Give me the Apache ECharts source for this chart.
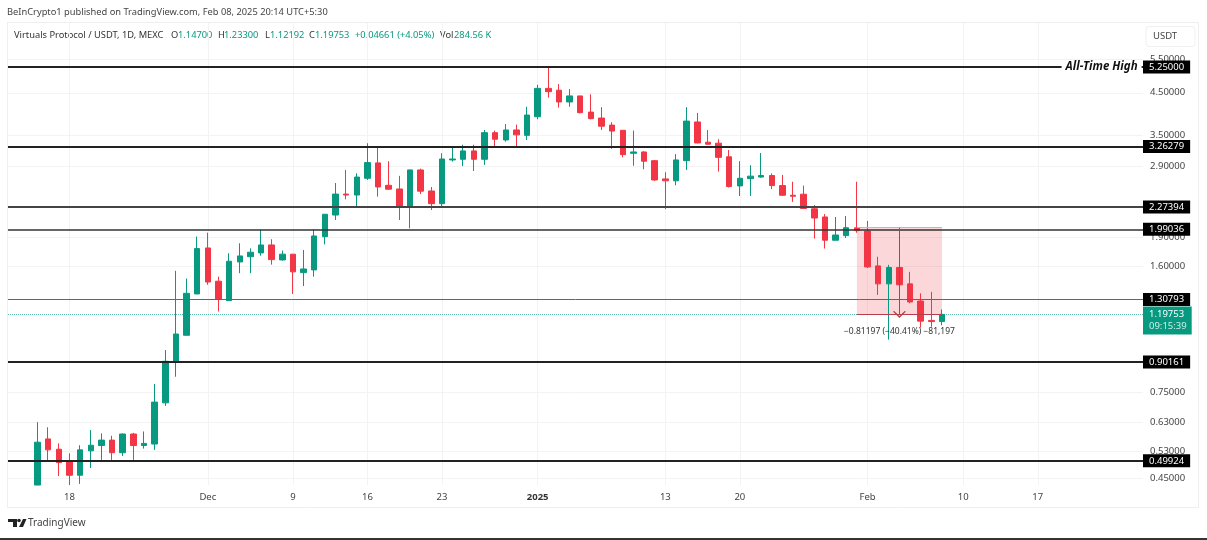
<!DOCTYPE html>
<html><head><meta charset="utf-8">
<style>html,body{margin:0;padding:0;background:#fff}#c{width:1207px;height:540px}</style>
<script src="https://cdn.jsdelivr.net/npm/echarts@6/dist/echarts.min.js"></script>
</head><body><div id="c"></div>
<script>
const dates = ['2024-11-15','2024-11-16','2024-11-17','2024-11-18','2024-11-19','2024-11-20','2024-11-21','2024-11-22','2024-11-23','2024-11-24','2024-11-25','2024-11-26','2024-11-27','2024-11-28','2024-11-29','2024-11-30',
'2024-12-01','2024-12-02','2024-12-03','2024-12-04','2024-12-05','2024-12-06','2024-12-07','2024-12-08','2024-12-09','2024-12-10','2024-12-11','2024-12-12','2024-12-13','2024-12-14','2024-12-15','2024-12-16','2024-12-17','2024-12-18','2024-12-19','2024-12-20','2024-12-21','2024-12-22','2024-12-23','2024-12-24','2024-12-25','2024-12-26','2024-12-27','2024-12-28','2024-12-29','2024-12-30','2024-12-31',
'2025-01-01','2025-01-02','2025-01-03','2025-01-04','2025-01-05','2025-01-06','2025-01-07','2025-01-08','2025-01-09','2025-01-10','2025-01-11','2025-01-12','2025-01-13','2025-01-14','2025-01-15','2025-01-16','2025-01-17','2025-01-18','2025-01-19','2025-01-20','2025-01-21','2025-01-22','2025-01-23','2025-01-24','2025-01-25','2025-01-26','2025-01-27','2025-01-28','2025-01-29','2025-01-30','2025-01-31',
'2025-02-01','2025-02-02','2025-02-03','2025-02-04','2025-02-05','2025-02-06','2025-02-07','2025-02-08'];
const opens = [.432,.569,.535,.496,.458,.53,.547,.565,.524,.586,.547,.552,.706,.901,1.057,1.353,
1.781,1.46,1.30,1.638,1.69,1.729,1.813,1.658,1.716,1.537,1.562,1.905,2.168,2.457,2.443,2.70,2.96,2.589,2.533,2.28,2.838,2.503,2.32,3.013,3.025,3.18,3.025,3.546,3.395,3.604,3.49,
3.90,4.62,4.57,4.26,4.417,4.01,3.87,3.71,3.597,3.135,3.16,3.0,2.69,2.66,3.0,3.78,3.35,3.33,3.07,2.58,2.694,2.72,2.745,2.585,2.44,2.455,2.25,2.143,1.865,1.917,2.008,
1.97,1.60,1.437,1.585,1.437,1.297,1.155,1.147];
const closes = [.558,.533,.494,.458,.533,.548,.565,.524,.586,.547,.554,.709,.905,1.065,1.358,1.774,
1.453,1.31,1.645,1.698,1.736,1.813,1.661,1.716,1.544,1.571,1.913,2.178,2.457,2.443,2.72,2.965,2.564,2.53,2.27,2.838,2.50,2.32,3.03,3.03,3.18,3.025,3.546,3.41,3.604,3.50,3.94,
4.62,4.53,4.26,4.417,3.996,3.856,3.686,3.58,3.11,3.16,2.99,2.673,2.66,3.013,3.80,3.335,3.31,3.06,2.57,2.70,2.735,2.745,2.585,2.44,2.425,2.255,2.13,1.865,1.924,2.01,1.975,
1.59,1.437,1.585,1.429,1.29,1.15,1.147,1.19753];
const lows = [.432,.497,.456,.432,.435,.478,.502,.502,.514,.502,.537,.533,.693,.825,1.057,1.353,
1.429,1.218,1.30,1.532,1.532,1.70,1.612,1.651,1.353,1.418,1.50,1.82,2.105,2.382,2.288,2.673,2.42,2.518,2.105,2.003,2.457,2.235,2.265,2.983,2.905,2.82,2.925,3.26,3.36,3.26,3.395,
3.84,4.37,4.118,4.14,3.98,3.84,3.604,3.22,3.06,2.91,2.85,2.66,2.245,2.59,2.838,3.33,3.295,2.81,2.555,2.43,2.43,2.71,2.53,2.43,2.345,2.25,1.883,1.775,1.865,1.89,1.95,
1.58,1.345,1.03,1.386,1.28,1.107,1.112,1.12192];
const highs = [.629,.61,.554,.522,.548,.60,.588,.58,.588,.59,.595,.79,.968,1.553,1.483,1.906,
1.951,1.5,1.725,1.831,1.777,1.989,1.876,1.753,1.716,1.76,1.99,2.178,2.625,2.838,2.782,3.329,3.26,2.99,2.74,2.843,2.86,2.564,3.135,3.26,3.30,3.30,3.604,3.59,3.733,3.72,4.14,
4.72,5.24,4.74,4.60,4.417,4.46,4.13,3.775,3.597,3.59,3.173,3.013,2.80,3.12,4.13,3.99,3.604,3.41,3.198,2.99,2.92,3.14,2.78,2.755,2.645,2.585,2.30,2.18,2.143,2.155,2.645,
2.093,1.69,1.61,1.70,1.544,1.358,1.37,1.233];

const levelValues = [5.25, 3.26279, 2.27394, 1.99036, 1.30793, 0.90161, 0.49924];
const levelLabels = ['5.25000','3.26279','2.27394','1.99036','1.30793','0.90161','0.49924'];
const levelWidths = [2, 2, 2, 1.5, 1, 2, 2];
const levelColors = ['#222','#222','#444','#333','#666666','#222','#222'];
const priceTicks = [5.5, 4.5, 3.5, 2.9, 1.9, 1.6, 0.75, 0.63, 0.53, 0.45];
const dateTicks = ['2024-11-18','2024-12-01','2024-12-09','2024-12-16','2024-12-23','2025-01-01','2025-01-13','2025-01-20','2025-02-01','2025-02-10','2025-02-17'];
const dateTickLabels = ['18','Dec','9','16','23','2025','13','20','Feb','10','17'];
const lastPrice = 1.19753, rangeStart = 2.0095;
const FONT = '"Noto Sans", sans-serif';
const FS = 9.5, HS = 9.3;
const UP = '#089981', DOWN = '#F23645';
const DAY = 86400000;
const dayOf = s => Math.round((new Date(s + 'T00:00:00Z').getTime() - new Date(dates[0] + 'T00:00:00Z').getTime()) / DAY);
const pxPerDay = 10.64;
const xMin = -(37.6 - 8) / pxPerDay;
const xMax = (1143 - 37.6) / pxPerDay;
const tickDays = dateTicks.map(dayOf);

const chart = echarts.init(document.getElementById('c'), null, {renderer:'canvas'});
chart.setOption({
  animation:false, backgroundColor:'#fff',
  grid:{left:8,right:64,top:23,bottom:55},
  xAxis:{type:'value',min:xMin,max:xMax,scale:true,
    axisLine:{show:false},
    splitLine:{show:true,lineStyle:{color:'#f3f3f3',width:1}},
    axisTick:{show:false,customValues:tickDays},
    axisLabel:{customValues:tickDays,margin:7,fontFamily:FONT,fontSize:FS,color:'#444',hideOverlap:false,
      formatter:v=>{const i=tickDays.indexOf(+v);const t=dateTickLabels[i]||'';return t==='2025'?'{b|2025}':t;},
      rich:{b:{fontWeight:'bold',fontFamily:FONT,fontSize:FS,color:'#333'}}}
  },
  yAxis:{type:'log',logBase:10,position:'right',min:0.4321,max:6.828,
    axisLine:{show:false},
    axisTick:{show:false,customValues:priceTicks},
    splitLine:{show:true,lineStyle:{color:'#f3f3f3',width:1}},
    axisLabel:{customValues:priceTicks,margin:7,align:'left',fontFamily:FONT,fontSize:FS,color:'#444',formatter:v=>(+v).toFixed(5)}
  },
  series:[{
    type:'candlestick',barWidth:6,silent:true,clip:true,
    encode:{x:0,y:[1,2,3,4]},
    itemStyle:{color:UP,color0:DOWN,borderColor:UP,borderColor0:DOWN,borderWidth:1},
    data:dates.map((d,i)=>[dayOf(d),opens[i],closes[i],lows[i],highs[i]]),
    markArea:{silent:true,z:1,itemStyle:{color:'rgba(242,54,69,0.2)'},
      data:[[{coord:[dayOf('2025-01-31'),rangeStart]},{coord:[dayOf('2025-02-08'),lastPrice]}]]},
    markPoint:{silent:true,symbol:'circle',symbolSize:1,itemStyle:{color:'rgba(0,0,0,0)'},
      data:[
        {coord:[dayOf('2025-02-23'),5.25],label:{show:true,position:'inside',formatter:'All-Time High',fontFamily:FONT,fontSize:11.5,fontStyle:'italic',fontWeight:'bold',color:'#111',backgroundColor:'#fff',padding:[1,4]}},
        {coord:[dayOf('2025-02-04'),1.078],label:{show:true,position:'inside',formatter:'\u22120.81197 (\u221240.41%) \u221281,197',fontFamily:FONT,fontSize:8.5,color:'#333'}}
      ]},
    markLine:{silent:true,symbol:'none',animation:false,precision:5,
      data:[
        {yAxis:lastPrice,lineStyle:{type:'dotted',color:'rgba(8,153,129,0.65)',width:1},
          label:{show:true,position:'end',distance:0,offset:[0,6],formatter:'{a|1.19753}\n{b|09:15:39}',backgroundColor:UP,padding:[2,5,2,6],
            rich:{a:{color:'#fff',fontFamily:FONT,fontSize:FS,lineHeight:12},b:{color:'#cfeee7',fontFamily:FONT,fontSize:FS,lineHeight:12}}}},
        ...levelValues.map((v,i)=>({yAxis:v,lineStyle:{type:'solid',color:levelColors[i],width:levelWidths[i]},
          label:{show:true,position:'end',distance:0,formatter:levelLabels[i],backgroundColor:'#000',color:'#fff',fontFamily:FONT,fontSize:FS,padding:[1,6,1,6],lineHeight:11}})),
        [{coord:[dayOf('2025-01-31'),lastPrice],symbol:'none',lineStyle:{type:'solid',color:'#b5404c',width:1}},{coord:[dayOf('2025-02-08'),lastPrice],symbol:'none'}],
        [{coord:[dayOf('2025-01-31'),rangeStart],symbol:'none',lineStyle:{type:'solid',color:'#f7a0a8',width:1}},{coord:[dayOf('2025-02-08'),rangeStart],symbol:'none'}],
        [{coord:[dayOf('2025-02-04'),rangeStart],symbol:'none',lineStyle:{type:'solid',color:'#b5404c',width:1}},{coord:[dayOf('2025-02-04'),lastPrice],symbol:'path://M0,10 L10,0 L20,10 L18,11 L10,3 L2,11 Z',symbolSize:[13,7]}]
      ]}
  }],
  graphic:[
    {type:'rect',z:-1,silent:true,shape:{x:7.5,y:22.5,width:1191,height:485},style:{fill:'none',stroke:'#eeeeee',lineWidth:1}},
    {type:'text',x:7,y:8,style:{text:'BeInCrypto1 published on TradingView.com, Feb 08, 2025 20:14 UTC+5:30',fontFamily:FONT,fontSize:HS,fill:'#444'}},
    {type:'text',x:14,y:31,style:{text:'Virtuals Protocol / USDT, 1D, MEXC',fontFamily:FONT,fontSize:HS,fill:'#333'}},
    ...[[171,'O','#333'],[178,'1.14700',UP],[218,'H','#333'],[224,'1.23300',UP],[265,'L','#333'],[270,'1.12192',UP],[309,'C','#333'],[315,'1.19753',UP],[355,'+0.04661 (+4.05%)',UP],[440,'Vol','#333'],[454,'284.56 K',UP]]
      .map(a=>({type:'text',x:a[0],y:31,style:{text:a[1],fontFamily:FONT,fontSize:HS,fill:a[2]}})),
    {type:'rect',shape:{x:1146,y:26.5,width:49,height:20,r:3},style:{fill:'#fff',stroke:'#f0f0f0',lineWidth:1}},
    {type:'text',x:1153,y:31,style:{text:'USDT',fontFamily:FONT,fontSize:FS,fill:'#444'}},
    {type:'polygon',shape:{points:[[8,519],[17,519],[17,527],[13,527],[13,522],[8,522]]},style:{fill:'#222'}},
    {type:'circle',shape:{cx:19,cy:520.5,r:1.8},style:{fill:'#222'}},
    {type:'polygon',shape:{points:[[23,519],[26.5,519],[23,527],[19,527]]},style:{fill:'#222'}},
    {type:'text',x:28,y:518,style:{text:'TradingView',fontFamily:FONT,fontSize:FS+0.5,fill:'#444'}},
    {type:'rect',shape:{x:0,y:538,width:1207,height:2},style:{fill:'#333'}}
  ]
});
</script></body></html>
